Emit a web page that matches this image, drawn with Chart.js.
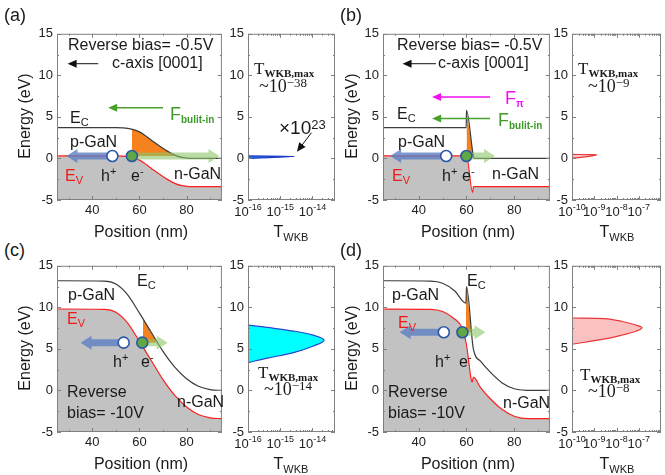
<!DOCTYPE html>
<html>
<head>
<meta charset="utf-8">
<title>GaN p-n junction band diagrams and WKB tunneling</title>
<script src="https://cdn.jsdelivr.net/npm/chart.js@4.4.1/dist/chart.umd.min.js"></script>
<style>
  html, body { margin: 0; padding: 0; background: #fff; }
  #wrap { position: relative; width: 665px; height: 475px; overflow: hidden;
          font-family: "Liberation Sans", Arial, sans-serif; color: #1a1a1a; }
  #wrap canvas { position: absolute; }
  .t { position: absolute; white-space: nowrap; line-height: 1; font-size: 16px; transform: translateY(-50%); }
  .mid { transform: translate(-50%, -50%); }
  .rot { transform: translate(-50%, -50%) rotate(-90deg); }
  .big { font-size: 18px; }
  .red { color: #f01818; }
  .green { color: #3f9a2a; }
  .mag { color: #f010f0; }
  .ser { font-family: "Liberation Serif", "DejaVu Serif", serif; font-size: 17px; }
  .ser2 { font-family: "Liberation Serif", "DejaVu Serif", serif; font-size: 18px; }
  .t sub, .t sup { line-height: 0; }
  .s { font-size: 11px; vertical-align: -3px; }
  .p { font-size: 11px; vertical-align: 6px; }
  .F { font-size: 18px; }
  .fs { font-size: 10px; font-weight: bold; vertical-align: -3px; }
  .sb { font-size: 11px; font-weight: bold; vertical-align: -3px; }
  .ps { font-size: 13px; vertical-align: 5px; }
  .x23 { font-size: 19px; }
  .ws { font-size: 11px; vertical-align: -4px; }
</style>
</head>
<body>
<div id="wrap"></div>
<script>
// shared axes
const posTicks = [40, 60, 80];
const posMinor = [30, 50, 70, 90];
const energyTicks = [-5, 0, 5, 10, 15];
const energyMinor = [-2.5, 2.5, 7.5, 12.5];

// (a) reverse bias -0.5 V
const aEcX = [25, 50, 53, 55, 57, 60, 63, 66, 69, 72, 75, 78, 81, 95];
const aEcY = [3.7, 3.7, 3.68, 3.62, 3.5, 3.2, 2.65, 2.0, 1.4, 0.85, 0.4, 0.12, 0.02, 0];
const aEvX = [25, 50, 53, 55, 57, 60, 63, 66, 69, 72, 75, 78, 81, 95];
const aEvY = [0.3, 0.3, 0.28, 0.22, 0.1, -0.2, -0.75, -1.4, -2.0, -2.55, -3.0, -3.28, -3.38, -3.4];
const aTunnelX = [56.8, 60, 63, 66, 69, 72, 75, 76];
const aTunnelY = [3.52, 3.2, 2.65, 2.0, 1.4, 0.85, 0.4, 0.3];
const aCarrierX = [48.5, 56.8];   // h+, e-
const aCarrierE = [0.3, 0.3];
const aDriftTo = [29, 94];        // tips of hole / electron arrows
const aTwkbE = [0.0, 0.25, 0.3];
const aTwkbT = [1e-16, 2.8e-15, 1e-16];
const aLogTicks = [1e-16, 1e-15, 1e-14];

// (b) reverse bias -0.5 V with polarization
const bEcX = [25, 59.9, 60, 62.9, 63.3, 95];
const bEcY = [3.7, 3.7, 5.8, 0.3, 0, 0];
const bEvX = [25, 60, 62.6, 62.9, 95];
const bEvY = [0.3, 0.3, -4.1, -3.4, -3.4];
const bTunnelX = [60.05, 61, 62, 62.9];
const bTunnelY = [5.7, 3.9, 2.0, 0.3];
const bCarrierX = [51.5, 60.0];
const bCarrierE = [0.3, 0.3];
const bDriftTo = [28, 72];
const bTwkbE = [0.0, 0.42, 0.48];
const bTwkbT = [1e-10, 1.3e-9, 1e-10];
const bLogTicks = [1e-10, 1e-9, 1e-8, 1e-7];

// (c) reverse bias -10 V
const cEcX = [25, 45, 50, 55, 60, 65, 70, 75, 80, 85, 90, 95];
const cEcY = [13.2, 13.15, 12.8, 11.5, 9.3, 7.0, 4.7, 2.8, 1.4, 0.5, 0.1, 0];
const cEvX = [25, 45, 50, 55, 60, 65, 70, 75, 80, 85, 90, 95];
const cEvY = [9.8, 9.75, 9.4, 8.1, 5.9, 3.6, 1.3, -0.6, -2.0, -2.9, -3.3, -3.4];
const cTunnelX = [61.5, 63, 65, 67, 67.6];
const cTunnelY = [8.65, 7.95, 7.0, 6.05, 5.75];
const cCarrierX = [53.3, 61.2];
const cCarrierE = [5.75, 5.75];
const cDriftTo = [35, 72];
const cTwkbE = [3.35, 3.9, 4.55, 5.35, 6.05, 6.65, 7.15, 7.58, 7.86];
const cTwkbT = [1e-16, 4e-16, 2.6e-15, 1.07e-14, 2.3e-14, 1.07e-14, 2.6e-15, 4e-16, 1e-16];

// (d) reverse bias -10 V with polarization
const dEcX = [25, 45, 50, 55, 59.8, 60, 62.9, 66, 70, 75, 80, 85, 95];
const dEcY = [13.2, 13.15, 12.9, 12.0, 10.5, 12.5, 5.0, 3.5, 2.2, 0.9, 0.2, 0.02, 0];
const dEvX = [25, 45, 50, 55, 58, 60, 62, 62.4, 62.9, 66, 70, 75, 80, 86, 95];
const dEvY = [9.8, 9.75, 9.5, 8.6, 7.6, 5.5, 1.3, 1.0, 1.6, 0.3, -1.0, -2.3, -3.1, -3.4, -3.4];
const dTunnelX = [59.8, 60, 61, 62.05];
const dTunnelY = [10.5, 12.3, 9.9, 7.2];
const dCarrierX = [50.5, 58.3];
const dCarrierE = [7.0, 7.0];
const dDriftTo = [32, 68];
const dTwkbE = [5.56, 6.2, 6.67, 7.1, 7.55, 7.9, 8.3, 8.65, 8.72];
const dTwkbT = [1e-10, 3e-9, 1.8e-8, 7e-8, 1.4e-7, 6.8e-8, 1.8e-8, 3e-9, 1e-10];

const FONT = '"Liberation Sans", Arial, sans-serif';
Chart.defaults.font.family = FONT;
Chart.defaults.font.size = 13;
Chart.defaults.color = '#222';

const wrap = document.getElementById('wrap');

function pts(xs, ys) {
  return xs.map((x, i) => ({ x: x, y: ys[i] }));
}

function lineArrow(ctx, x1, y1, x2, y2, color, lw) {
  const a = Math.atan2(y2 - y1, x2 - x1), hl = 9, hw = 4;
  ctx.save();
  ctx.strokeStyle = color; ctx.fillStyle = color; ctx.lineWidth = lw;
  ctx.beginPath();
  ctx.moveTo(x1, y1);
  ctx.lineTo(x2 - hl * 0.7 * Math.cos(a), y2 - hl * 0.7 * Math.sin(a));
  ctx.stroke();
  ctx.beginPath();
  ctx.moveTo(x2, y2);
  ctx.lineTo(x2 - hl * Math.cos(a) - hw * Math.sin(a), y2 - hl * Math.sin(a) + hw * Math.cos(a));
  ctx.lineTo(x2 - hl * Math.cos(a) + hw * Math.sin(a), y2 - hl * Math.sin(a) - hw * Math.cos(a));
  ctx.closePath();
  ctx.fill();
  ctx.restore();
}

// thick translucent arrow for carrier drift
function blockArrow(ctx, x1, x2, y, color) {
  const dir = Math.sign(x2 - x1), sh = 3.5, hh = 7, hl = 11;
  ctx.fillStyle = color;
  ctx.beginPath();
  ctx.moveTo(x1, y - sh);
  ctx.lineTo(x2 - dir * hl, y - sh);
  ctx.lineTo(x2 - dir * hl, y - hh);
  ctx.lineTo(x2, y);
  ctx.lineTo(x2 - dir * hl, y + hh);
  ctx.lineTo(x2 - dir * hl, y + sh);
  ctx.lineTo(x1, y + sh);
  ctx.closePath();
  ctx.fill();
}

function frame(chart, xMajor, xMinor) {
  const { ctx, chartArea: a, scales: { x, y } } = chart;
  ctx.save();
  ctx.strokeStyle = '#808080';
  ctx.lineWidth = 1;
  ctx.strokeRect(a.left + 0.5, a.top + 0.5, a.width - 1, a.height - 1);
  ctx.beginPath();
  const tick = (v, len, horiz) => {
    if (horiz) {
      const p = Math.round(x.getPixelForValue(v)) + 0.5;
      ctx.moveTo(p, a.bottom); ctx.lineTo(p, a.bottom - len);
      ctx.moveTo(p, a.top); ctx.lineTo(p, a.top + len);
    } else {
      const p = Math.round(y.getPixelForValue(v)) + 0.5;
      ctx.moveTo(a.left, p); ctx.lineTo(a.left + len, p);
      ctx.moveTo(a.right, p); ctx.lineTo(a.right - len, p);
    }
  };
  xMajor.forEach(v => tick(v, 4, true));
  xMinor.forEach(v => tick(v, 2, true));
  energyTicks.forEach(v => tick(v, 4, false));
  energyMinor.forEach(v => tick(v, 2, false));
  ctx.stroke();
  ctx.restore();
}

function logMinor(s) {
  const out = [];
  for (let d = Math.floor(Math.log10(s.min)); d < Math.log10(s.max); d++) {
    for (let m = 2; m < 10; m++) {
      const v = m * Math.pow(10, d);
      if (v > s.min && v < s.max) out.push(v);
    }
  }
  return out;
}

function makeChart(box, datasets, xOpts, hooks, indexAxis) {
  const yw = 32, padT = 10, padR = 4, xh = 24;
  const L = box[0] - yw, T = box[1] - padT;
  const W = box[2] + padR - L, H = box[3] + xh - T;
  const cv = document.createElement('canvas');
  cv.width = W; cv.height = H;
  cv.style.left = L + 'px'; cv.style.top = T + 'px';
  cv.style.width = W + 'px'; cv.style.height = H + 'px';
  wrap.appendChild(cv);
  return new Chart(cv, {
    type: 'line',
    data: { datasets: datasets },
    options: {
      responsive: false,
      animation: false,
      devicePixelRatio: 1,
      indexAxis: indexAxis || 'x',
      layout: { padding: { top: padT, right: padR, left: 0, bottom: 0 } },
      plugins: { legend: { display: false }, tooltip: { enabled: false } },
      elements: { point: { radius: 0 } },
      scales: {
        x: Object.assign({
          afterFit: s => { s.height = xh; },
          grid: { display: false, drawTicks: false },
          border: { display: false }
        }, xOpts),
        y: {
          type: 'linear', min: -5, max: 15,
          afterFit: s => { s.width = yw; },
          afterBuildTicks: s => { s.ticks = energyTicks.map(v => ({ value: v })); },
          grid: { display: false, drawTicks: false },
          border: { display: false },
          ticks: { padding: 4, autoSkip: false }
        }
      }
    },
    plugins: [hooks]
  });
}

function bandPanel(box, p) {
  const hooks = {
    id: 'band',
    beforeDatasetDraw(chart, args) {
      if (args.index !== 0) return;
      const { ctx, scales: { x, y } } = chart;
      const yy = y.getPixelForValue(p.carE[0]);
      ctx.save();
      blockArrow(ctx, x.getPixelForValue(p.carX[0]) - 4, x.getPixelForValue(p.drift[0]), yy, 'rgba(92,128,196,0.8)');
      blockArrow(ctx, x.getPixelForValue(p.carX[1]) + 4, x.getPixelForValue(p.drift[1]), yy, 'rgba(140,198,106,0.6)');
      ctx.restore();
    },
    afterDraw(chart) {
      const { ctx, scales: { x, y } } = chart;
      p.notes.forEach(n => lineArrow(ctx,
        x.getPixelForValue(n[0]), y.getPixelForValue(n[2]),
        x.getPixelForValue(n[1]), y.getPixelForValue(n[2]), n[3], n[4]));
      frame(chart, posTicks, posMinor);
    }
  };
  const datasets = [
    {
      data: pts(p.carX, p.carE), showLine: false,
      pointRadius: 5.5, pointBorderWidth: 1.6,
      pointBackgroundColor: ['#ffffff', '#5fa845'], pointBorderColor: '#2b57a8'
    },
    { data: pts(p.ecX, p.ecY), borderColor: '#3c3c3c', borderWidth: 1.2, cubicInterpolationMode: 'monotone' },
    {
      data: pts(p.evX, p.evY), borderColor: '#ff2020', borderWidth: 1.2, cubicInterpolationMode: 'monotone',
      fill: { value: -5 }, backgroundColor: '#c2c2c2'
    },
    {
      data: pts(p.tunX, p.tunY), borderWidth: 0, cubicInterpolationMode: 'monotone',
      fill: { value: p.carE[1] }, backgroundColor: '#f5821f'
    }
  ];
  makeChart(box, datasets, {
    type: 'linear', min: 25, max: 95,
    afterBuildTicks: s => { s.ticks = posTicks.map(v => ({ value: v })); },
    ticks: { padding: 3, autoSkip: false, maxRotation: 0 }
  }, hooks, 'x');
}

function twkbPanel(box, E, T, ticks, max, edge, fillColor, extra) {
  const hooks = {
    id: 'twkb',
    afterDraw(chart) {
      const { ctx, chartArea: a, scales: { x } } = chart;
      frame(chart, ticks, logMinor(x));
      ctx.save();
      ctx.fillStyle = '#222';
      ticks.forEach(v => {
        const e = String(Math.round(Math.log10(v)));
        ctx.font = '13px ' + FONT;
        const w1 = ctx.measureText('10').width;
        ctx.font = '9px ' + FONT;
        const w2 = ctx.measureText(e).width;
        const x0 = x.getPixelForValue(v) - (w1 + w2) / 2;
        ctx.font = '13px ' + FONT;
        ctx.fillText('10', x0, a.bottom + 16);
        ctx.font = '9px ' + FONT;
        ctx.fillText(e, x0 + w1, a.bottom + 10);
      });
      ctx.restore();
      if (extra) extra(chart);
    }
  };
  makeChart(box, [{
    data: pts(T, E), borderColor: edge, borderWidth: 1.2, tension: 0.35,
    fill: { value: ticks[0] }, backgroundColor: fillColor
  }], {
    type: 'logarithmic', min: ticks[0], max: max,
    ticks: { display: false }
  }, hooks, 'y');
}

// band diagrams
bandPanel([57, 32, 225, 200], {
  ecX: aEcX, ecY: aEcY, evX: aEvX, evY: aEvY, tunX: aTunnelX, tunY: aTunnelY,
  carX: aCarrierX, carE: aCarrierE, drift: aDriftTo,
  notes: [[42.5, 29.5, 11.4, '#111', 1], [70, 46.7, 6.1, '#4aa02c', 1.6]]
});
bandPanel([383, 32, 553, 200], {
  ecX: bEcX, ecY: bEcY, evX: bEvX, evY: bEvY, tunX: bTunnelX, tunY: bTunnelY,
  carX: bCarrierX, carE: bCarrierE, drift: bDriftTo,
  notes: [[47.2, 33.2, 11.4, '#111', 1], [69.9, 45.6, 7.4, '#f010f0', 1.6], [69.9, 45.6, 4.8, '#4aa02c', 1.6]]
});
bandPanel([57, 264, 225, 432], {
  ecX: cEcX, ecY: cEcY, evX: cEvX, evY: cEvY, tunX: cTunnelX, tunY: cTunnelY,
  carX: cCarrierX, carE: cCarrierE, drift: cDriftTo, notes: []
});
bandPanel([383, 264, 553, 432], {
  ecX: dEcX, ecY: dEcY, evX: dEvX, evY: dEvY, tunX: dTunnelX, tunY: dTunnelY,
  carX: dCarrierX, carE: dCarrierE, drift: dDriftTo, notes: []
});

// WKB tunneling probability
twkbPanel([248, 32, 335, 200], aTwkbE, aTwkbT, aLogTicks, 5e-14, '#1a3cc8', '#3a7ae8', chart => {
  const { ctx, scales: { x, y } } = chart;
  lineArrow(ctx, x.getPixelForValue(9.3e-15), y.getPixelForValue(3.1),
    x.getPixelForValue(3.3e-15), y.getPixelForValue(0.8), '#111', 1);
});
twkbPanel([572, 32, 661, 200], bTwkbE, bTwkbT, bLogTicks, 1e-6, '#e8383a', 'rgba(248,140,140,0.55)');
twkbPanel([248, 264, 335, 432], cTwkbE, cTwkbT, aLogTicks, 5e-14, '#2a46d0', '#00ffff');
twkbPanel([572, 264, 661, 432], dTwkbE, dTwkbT, bLogTicks, 1e-6, '#e8383a', 'rgba(248,140,140,0.55)');

// text
const EC = 'E<sub class="s">C</sub>', EV = 'E<sub class="s">V</sub>';
const HP = 'h<sup class="p">+</sup>', EM = 'e<sup class="p">-</sup>';
const TMAX = 'T<sub class="sb">WKB,max</sub>';
const FB = '<span class="F">F</span><sub class="fs">bulit-in</sub>';
const FP = '<span class="F">F</span><sub class="fs">π</sub>';
const TW = 'T<sub class="ws">WKB</sub>';
const texts = [
  [4, 15, '(a)', 'big'], [340, 15, '(b)', 'big'], [4, 250, '(c)', 'big'], [340, 250, '(d)', 'big'],
  // (a)
  [68, 45, 'Reverse bias= -0.5V'], [112, 63, 'c-axis [0001]'], [70, 118, EC],
  [170, 114, FB, 'green'], [70, 142, 'p-GaN'], [65, 176, EV, 'red'],
  [101, 176, HP], [131, 176, EM], [174, 174, 'n-GaN'],
  [254, 68, TMAX, 'ser'], [259, 86, '~10<sup class="ps">−38</sup>', 'ser2'],
  [279, 127, '×10<sup class="ps">23</sup>', 'x23'],
  // (b)
  [397, 45, 'Reverse bias= -0.5V'], [438, 63, 'c-axis [0001]'], [505, 98, FP, 'mag'],
  [498, 120, FB, 'green'], [397, 114, EC], [398, 142, 'p-GaN'], [392, 176, EV, 'red'],
  [442, 176, HP], [462, 176, EM], [492, 174, 'n-GaN'],
  [578, 68, TMAX, 'ser'], [588, 86, '~10<sup class="ps">−9</sup>', 'ser2'],
  // (c)
  [137, 281, EC], [68, 295, 'p-GaN'], [67, 319, EV, 'red'], [113, 362, HP], [141, 362, EM],
  [67, 392, 'Reverse'], [67, 413, 'bias= -10V'], [177, 402, 'n-GaN'],
  [258, 372, TMAX, 'ser'], [264, 389, '~10<sup class="ps">−14</sup>', 'ser2'],
  // (d)
  [467, 281, EC], [392, 295, 'p-GaN'], [398, 323, EV, 'red'], [435, 362, HP], [459, 362, EM],
  [388, 392, 'Reverse'], [388, 413, 'bias= -10V'], [503, 403, 'n-GaN'],
  [580, 374, TMAX, 'ser'], [588, 391, '~10<sup class="ps">−8</sup>', 'ser2'],
  // axis titles
  [25, 116, 'Energy (eV)', 'rot'], [352, 116, 'Energy (eV)', 'rot'],
  [25, 348, 'Energy (eV)', 'rot'], [352, 348, 'Energy (eV)', 'rot'],
  [141, 232, 'Position (nm)', 'mid'], [468, 232, 'Position (nm)', 'mid'],
  [141, 464, 'Position (nm)', 'mid'], [468, 464, 'Position (nm)', 'mid'],
  [291, 232, TW, 'mid'], [617, 232, TW, 'mid'], [291, 464, TW, 'mid'], [617, 464, TW, 'mid']
];
texts.forEach(t => {
  const d = document.createElement('div');
  d.className = 't' + (t[3] ? ' ' + t[3] : '');
  d.style.left = t[0] + 'px';
  d.style.top = t[1] + 'px';
  d.innerHTML = t[2];
  wrap.appendChild(d);
});
</script>
</body>
</html>
